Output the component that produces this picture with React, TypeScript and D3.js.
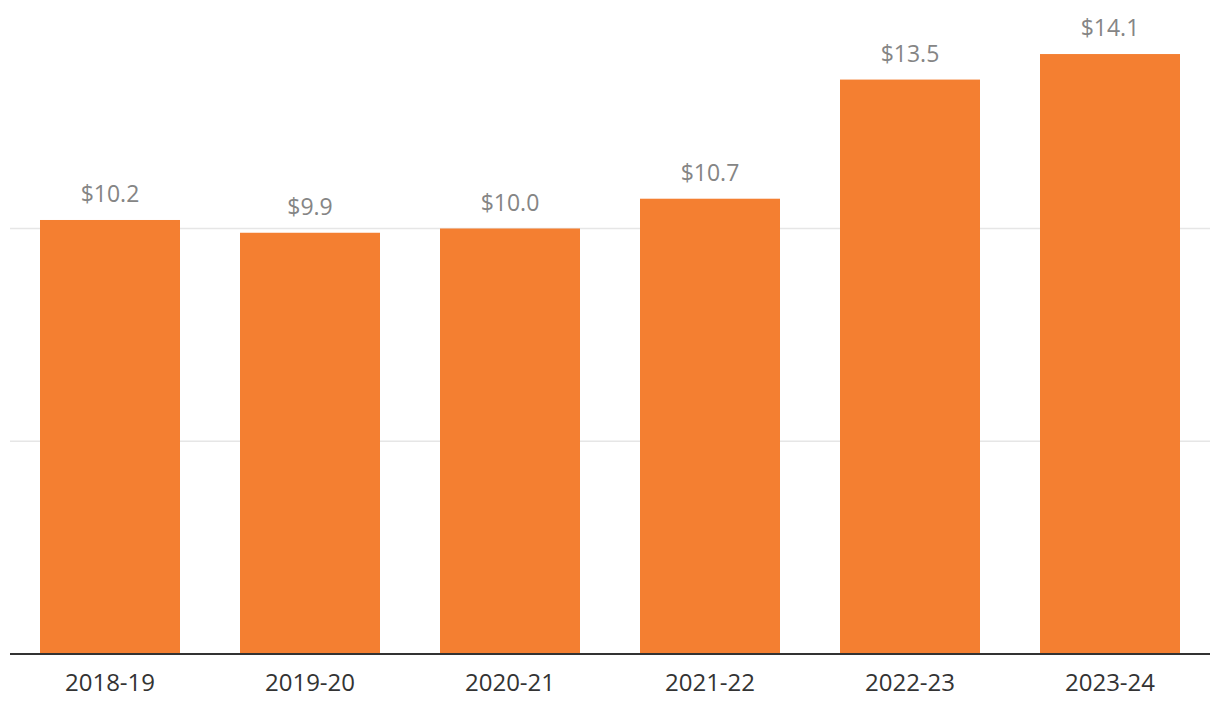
import React from "react";
import * as d3 from "d3";

const categories = ["2018-19", "2019-20", "2020-21", "2021-22", "2022-23", "2023-24"];
const values = [10.2, 9.9, 10.0, 10.7, 13.5, 14.1];
const gridTicks = [5, 10];

const W = 1220;
const H = 716;
const left = 10;
const right = 1210;
const baseY = 654;
const font = "'Open Sans', sans-serif";

export default function App() {
  const x = d3.scaleBand<string>().domain(categories).range([left, right]).paddingInner(0.3).paddingOuter(0.15);
  const y = d3.scaleLinear().domain([0, 10]).range([baseY, 228.5]);
  return (
    <svg width={W} height={H} style={{ position: "absolute", left: 0, top: 0 }}>
      {gridTicks.map((t) => (
        <line key={t} x1={left} x2={right} y1={y(t)} y2={y(t)} stroke="#e6e6e6" strokeWidth={1.5} />
      ))}
      {categories.map((c, i) => (
        <rect key={c} x={x(c)!} y={y(values[i])} width={x.bandwidth()} height={baseY - y(values[i])} fill="#F47F31" />
      ))}
      {categories.map((c, i) => (
        <text key={c} x={x(c)! + x.bandwidth() / 2} y={y(values[i]) - 18} textAnchor="middle" fontFamily={font} fontSize={23} fill="#858585">
          {"$" + values[i].toFixed(1)}
        </text>
      ))}
      <line x1={left} x2={right} y1={baseY} y2={baseY} stroke="#333" strokeWidth={2} />
      {categories.map((c) => (
        <text key={c} x={x(c)! + x.bandwidth() / 2} y={baseY + 37} textAnchor="middle" fontFamily={font} fontSize={24} fill="#333">
          {c}
        </text>
      ))}
    </svg>
  );
}
